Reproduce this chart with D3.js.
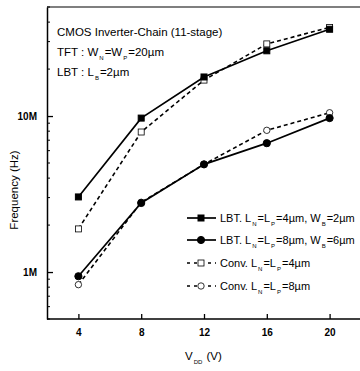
<!DOCTYPE html>
<html><head><meta charset="utf-8">
<script src="https://cdn.jsdelivr.net/npm/d3@7"></script>
<style>body{margin:0;background:#fff}svg{display:block}text{font-family:"Liberation Sans Narrow","Arial Narrow","Liberation Sans",sans-serif;fill:#000}</style>
</head><body><svg id="c" width="360" height="371"></svg>
<script>
const vdd = [4, 8, 12, 16, 20];
const lbt4 = [3.03e6, 9.7e6, 17.8e6, 26.2e6, 36e6];
const lbt8 = [0.94e6, 2.77e6, 4.9e6, 6.7e6, 9.7e6];
const conv4 = [1.89e6, 7.9e6, 17e6, 29e6, 37e6];
const conv8 = [0.83e6, 2.8e6, 4.9e6, 8.1e6, 10.5e6];
const xTicks = [4, 8, 12, 16, 20];
const yMajor = [1e6, 1e7];
const yLabels = ["1M", "10M"];

const series = [
  {name: "LBT4", vals: lbt4, dash: null, marker: "square", fill: true,
   label: [["LBT. L",""],["N","s"],["=L",""],["P","s"],["=4µm, W",""],["B","s"],["=2µm",""]]},
  {name: "LBT8", vals: lbt8, dash: null, marker: "circle", fill: true,
   label: [["LBT. L",""],["N","s"],["=L",""],["P","s"],["=8µm, W",""],["B","s"],["=6µm",""]]},
  {name: "Conv4", vals: conv4, dash: "4,3", marker: "square", fill: false,
   label: [["Conv. L",""],["N","s"],["=L",""],["P","s"],["=4µm",""]]},
  {name: "Conv8", vals: conv8, dash: "4,3", marker: "circle", fill: false,
   label: [["Conv. L",""],["N","s"],["=L",""],["P","s"],["=8µm",""]]}
];

const svg = d3.select("#c");
const L = 47, R = 361, T = 7, B = 319;
const x = d3.scaleLinear().domain([2, 22]).range([L, R]);
const y = d3.scaleLog().domain([5e5, 5e7]).range([B, T]);

// frame
svg.append("line").attr("x1", L).attr("x2", 360).attr("y1", T).attr("y2", T).attr("stroke", "#000").attr("stroke-width", 1.2);

// x axis
const xAxis = d3.axisBottom(x).tickValues(xTicks).tickSizeInner(-5).tickSizeOuter(0).tickPadding(10);
const gx = svg.append("g").attr("transform", `translate(0,${B})`).call(xAxis);
gx.select(".domain").attr("stroke-width", 1.5).attr("d", `M${L},0H360`);
gx.selectAll(".tick line").attr("stroke-width", 1.3);
gx.selectAll("text").attr("font-size", 10).attr("font-weight", "bold").style("font-family", '"Liberation Sans Narrow","Arial Narrow",sans-serif');

// y axis
const minor = [];
for (const d of [1e5, 1e6, 1e7]) for (let k = 2; k <= 9; k++) { const v = d * k; if (v >= 5e5 && v <= 5e7) minor.push(v); }
const gy = svg.append("g").attr("transform", `translate(${L},0)`);
gy.call(d3.axisLeft(y).tickValues(yMajor).tickFormat((d, i) => yLabels[i]).tickSizeInner(-6).tickSizeOuter(0).tickPadding(10));
gy.select(".domain").attr("stroke-width", 1.5);
gy.selectAll(".tick line").attr("stroke-width", 1.3);
gy.selectAll("text").attr("font-size", 10).attr("font-weight", "bold").style("font-family", '"Liberation Sans Narrow","Arial Narrow",sans-serif');
gy.selectAll(".minor").data(minor).enter().append("line")
  .attr("x1", 0).attr("x2", 3).attr("y1", d => y(d)).attr("y2", d => y(d)).attr("stroke", "#000").attr("stroke-width", 1);

// series
const line = d3.line().x((d, i) => x(vdd[i])).y(d => y(d));
function marker(g, type, fill, cx, cy) {
  if (type === "square") {
    g.append("rect").attr("x", cx - 3).attr("y", cy - 3).attr("width", 6).attr("height", 6)
      .attr("fill", fill ? "#000" : "#fff").attr("stroke", "#000").attr("stroke-width", fill ? 1 : 0.8);
  } else {
    g.append("circle").attr("cx", cx).attr("cy", cy).attr("r", fill ? 3.6 : 3.2)
      .attr("fill", fill ? "#000" : "#fff").attr("stroke", "#000").attr("stroke-width", fill ? 1 : 0.8);
  }
}
// draw open series first, then filled
[2, 3, 0, 1].forEach(si => {
  const s = series[si];
  const g = svg.append("g");
  g.append("path").attr("d", line(s.vals)).attr("fill", "none").attr("stroke", "#000")
    .attr("stroke-width", s.dash ? 1.6 : 1.7).attr("stroke-dasharray", s.dash);
  s.vals.forEach((v, i) => marker(g, s.marker, s.fill, x(vdd[i]), y(v)));
});

// rich text helper (subscripts)
function rich(sel, xp, yp, parts, fs) {
  const t = sel.append("text").attr("x", xp).attr("y", yp).attr("font-size", fs);
  let prevSub = false;
  parts.forEach(([txt, k]) => {
    if (k === "s") { t.append("tspan").attr("font-size", 6).attr("dy", 4).attr("dx", 1).text(txt); prevSub = true; }
    else { t.append("tspan").attr("dy", prevSub ? -4 : 0).attr("dx", prevSub ? 1 : 0).text(txt); prevSub = false; }
  });
  return t;
}

// legend
const legY = [218, 240, 263, 286];
series.forEach((s, i) => {
  const g = svg.append("g");
  const yy = legY[i];
  g.append("line").attr("x1", 187).attr("x2", 216).attr("y1", yy).attr("y2", yy).attr("stroke", "#000")
    .attr("stroke-width", s.dash ? 1.4 : 1.7).attr("stroke-dasharray", s.dash ? "3,4" : null);
  marker(g, s.marker, s.fill, 201, yy);
  rich(g, 220, yy + 4, s.label, 11);
});

// annotation
rich(svg, 57, 36, [["CMOS Inverter-Chain (11-stage)", ""]], 11.5);
rich(svg, 57, 56, [["TFT : W",""],["N","s"],["=W",""],["P","s"],["=20µm",""]], 11.5);
rich(svg, 57, 76, [["LBT : L",""],["B","s"],["=2µm",""]], 11.5);

// axis titles
rich(svg, 185, 360, [["V",""],["DD","s"],[" (V)",""]], 11.5);
svg.append("text").attr("transform", "translate(18,190) rotate(-90)").attr("text-anchor", "middle")
  .attr("font-size", 11.5).text("Frequency (Hz)");
</script></body></html>
